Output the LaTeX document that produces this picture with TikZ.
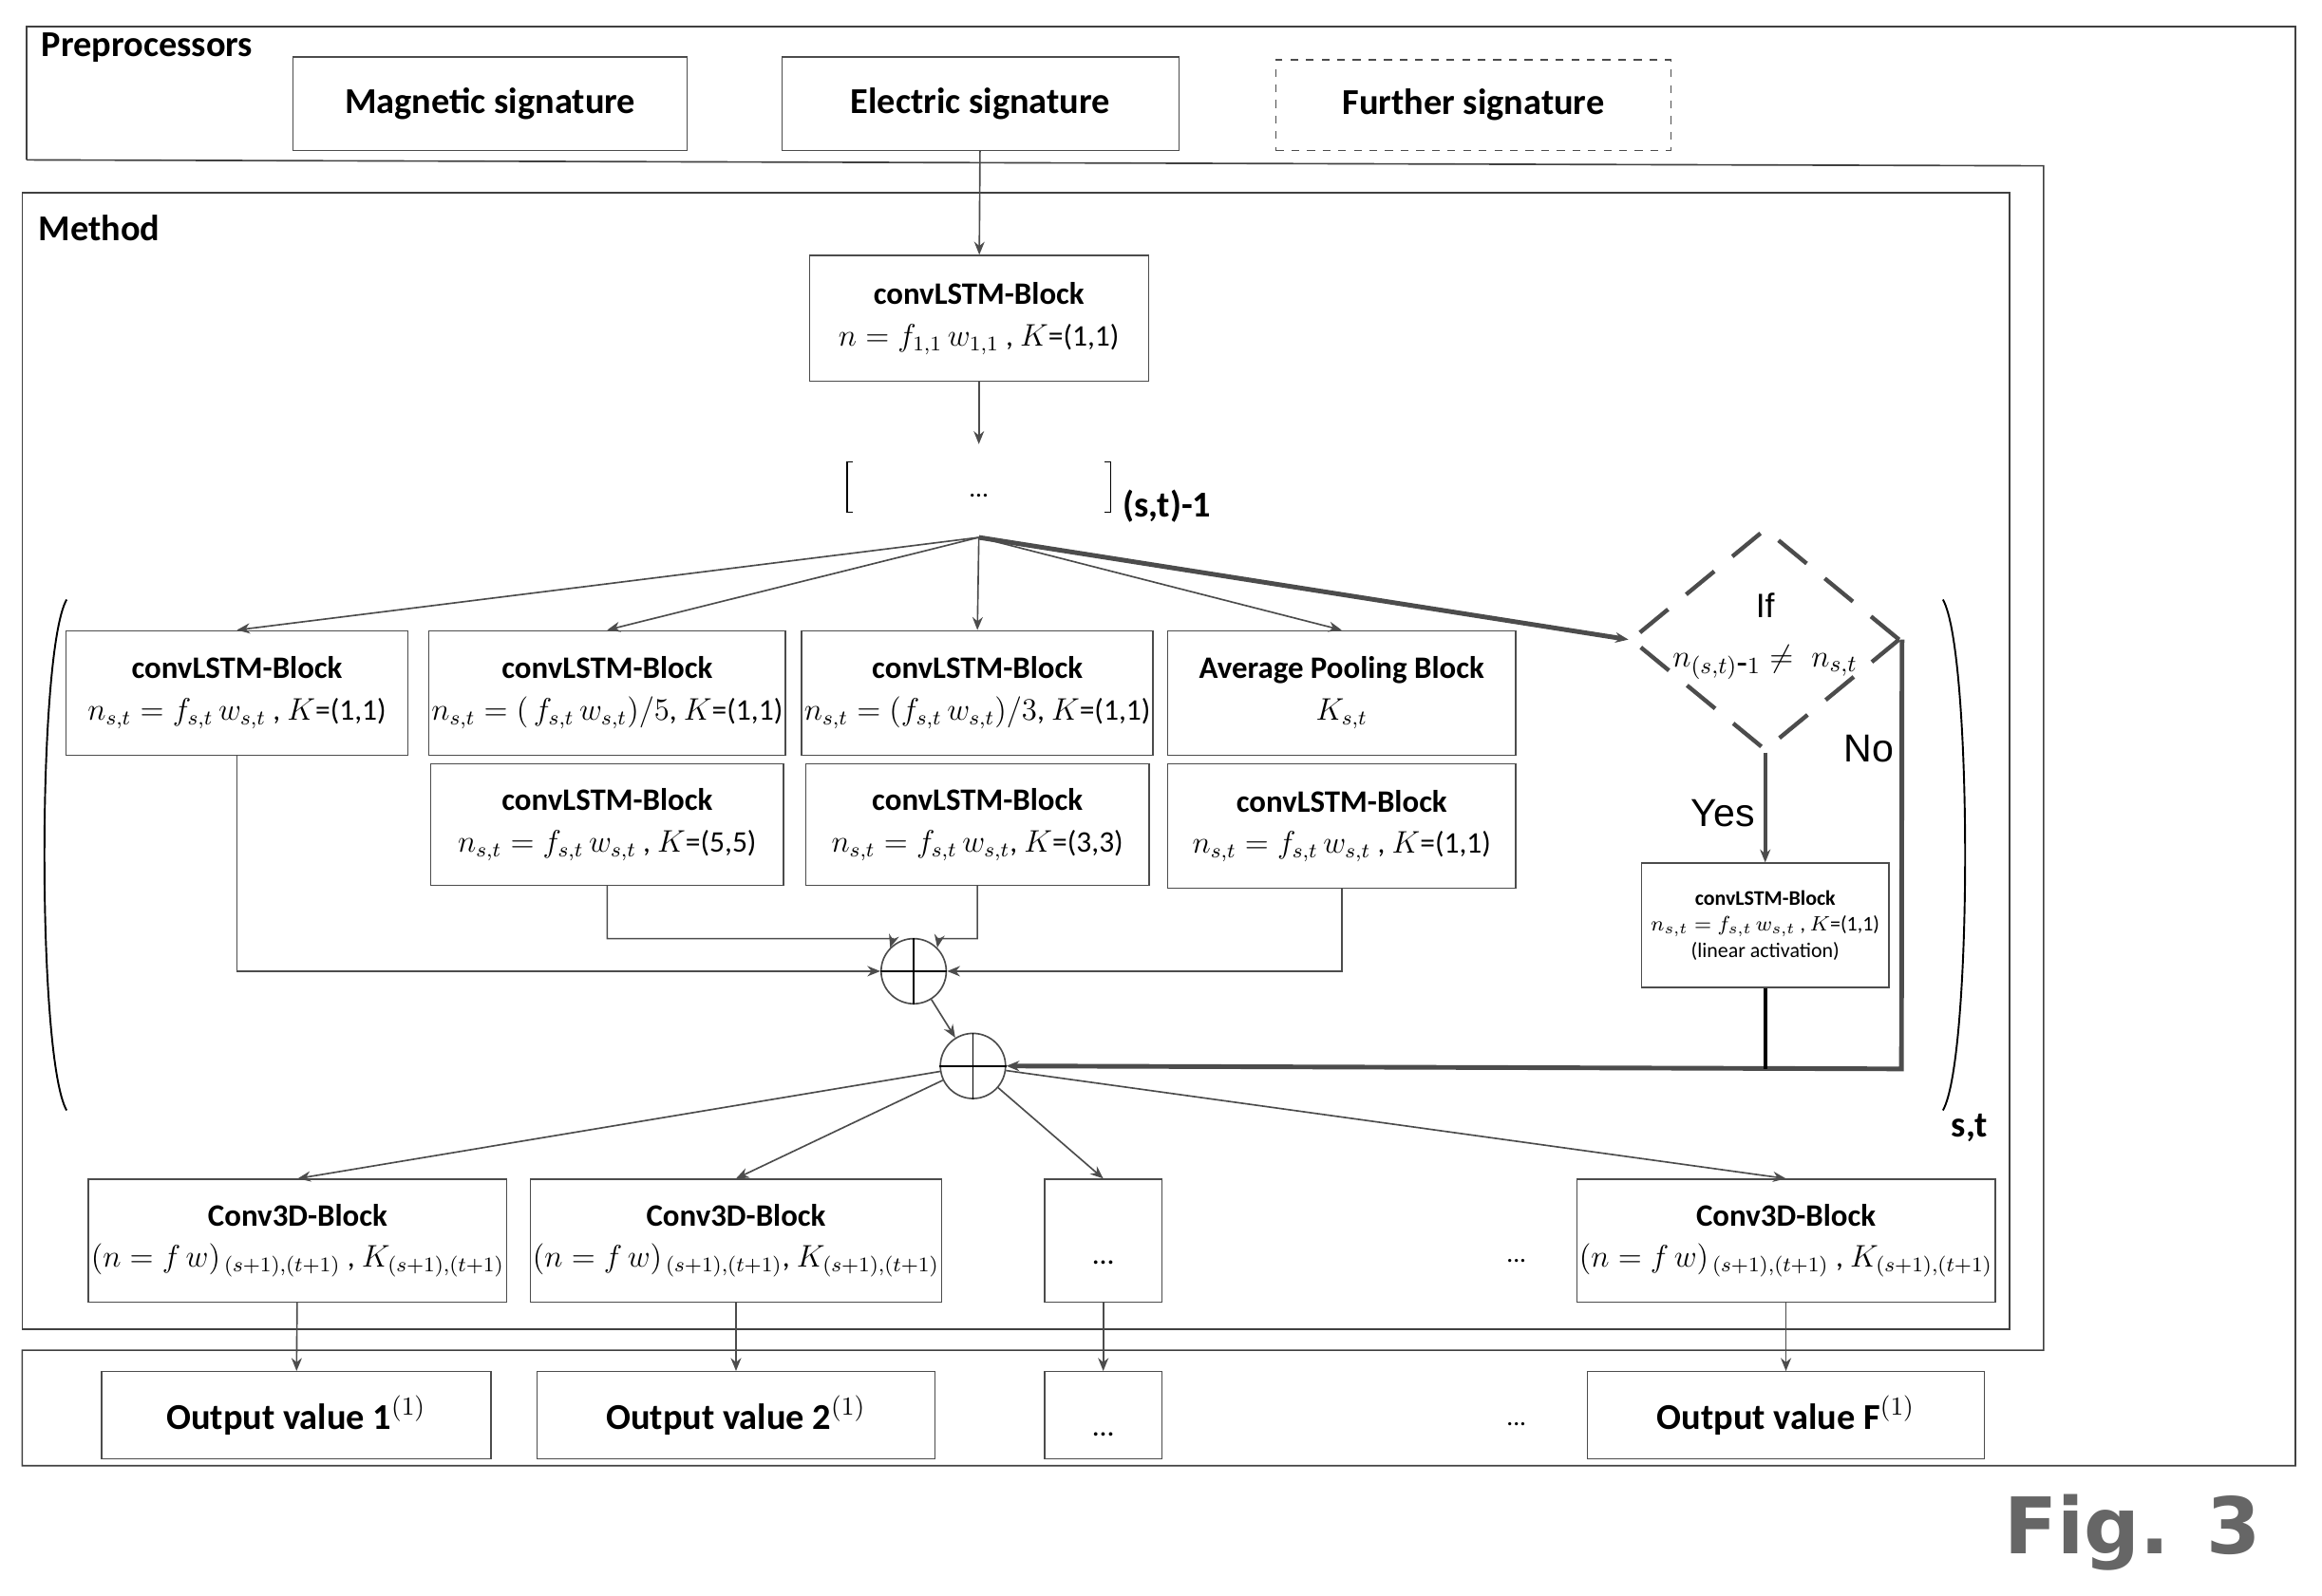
\documentclass[tikz,border=0pt]{standalone}
\usepackage{fontspec}
\setmainfont{Carlito}
\newfontfamily\arialfont{Liberation Sans}
\newfontfamily\figfont{DejaVu Sans}
\usetikzlibrary{shapes.geometric,arrows.meta}
\begin{document}
\begin{tikzpicture}[
    x=0.02cm, y=-0.02cm,
    frame/.style={draw=black!75, line width=0.6pt},
    blk/.style={
        rectangle,
        draw=black!70,
        line width=0.5pt,
        font=\fontsize{11.5}{14}\selectfont,
        align=center,
        inner sep=1pt
    },
    title/.style={font=\fontsize{14}{17}\selectfont\bfseries},
    link/.style={-{Stealth[length=5pt,width=4pt]}, draw=black!70, line width=0.6pt},
    plus/.style={circle, draw=black!70, line width=0.6pt, minimum size=0.88cm, inner sep=0pt}
]
\useasboundingbox (0,0) rectangle (1568,1078);

% frames
\draw[frame] (18,108) -- (18,18) -- (1550,18) -- (1550,990) -- (15,990) -- (15,912) -- (1380,912) -- (1380,112) -- (18,108);
\draw[frame] (15,130) rectangle (1357,898);
\node[title, anchor=west] (pre) at (22,32) {Preprocessors};
\node[title, anchor=west] (meth) at (20,154) {Method};

% preprocessors
\node[blk, title, minimum width=5.32cm, minimum height=1.26cm] (mag) at (331,70) {Magnetic signature};
\node[blk, title, minimum width=5.36cm, minimum height=1.26cm] (elec) at (662,70) {Electric signature};
\node[blk, title, dashed, minimum width=5.34cm, minimum height=1.22cm] (further) at (995,71) {Further signature};

% first block
\node[blk, minimum width=4.58cm, minimum height=1.7cm] (first) at (661,215)
    {\textbf{\large convLSTM-Block}\\[2pt] $n=f_{1,1}\,w_{1,1}$ , $K$=(1,1)};
\draw[link] (elec) -- (first);

% previous stage
\node (prev) at (661,335) {...};
\coordinate (split) at (661,363);
\draw[line width=0.6pt] (576,312) -- (572,312) -- (572,346) -- (576,346);
\draw[line width=0.6pt] (746,312) -- (750,312) -- (750,346) -- (746,346);
\node[font=\fontsize{14}{17}\selectfont\bfseries, anchor=west] (prevlbl) at (752,342) {(s,t)-1};
\draw[link] (first) -- (661,300);

% big parentheses
\draw[line width=0.7pt] (45,405) .. controls (25,440) and (25,715) .. (45,750);
\draw[line width=0.7pt] (1312,405) .. controls (1332,440) and (1332,715) .. (1312,750);
\node[font=\fontsize{14}{17}\selectfont\bfseries] (stlbl) at (1330,762) {s,t};

% row 1
\node[blk, minimum width=4.62cm, minimum height=1.68cm] (a) at (160,468)
    {\textbf{\large convLSTM-Block}\\[2pt] $n_{s,t}=f_{s,t}\,w_{s,t}$ , $K$=(1,1)};
\node[blk, minimum width=4.76cm, minimum height=1.68cm] (b) at (410,468)
    {\textbf{\large convLSTM-Block}\\[2pt] $n_{s,t}=(\,f_{s,t}\,w_{s,t})/5$, $K$=(1,1)};
\node[blk, minimum width=4.64cm, minimum height=1.68cm] (c) at (660,468)
    {\textbf{\large convLSTM-Block}\\[2pt] $n_{s,t}=(f_{s,t}\,w_{s,t})/3$, $K$=(1,1)};
\node[blk, minimum width=4.7cm, minimum height=1.68cm] (d) at (906,468)
    {\textbf{\large Average Pooling Block}\\[2pt] $K_{s,t}$};

% row 2
\node[blk, minimum width=4.76cm, minimum height=1.64cm] (b2) at (410,557)
    {\textbf{\large convLSTM-Block}\\[2pt] $n_{s,t}=f_{s,t}\,w_{s,t}$ , $K$=(5,5)};
\node[blk, minimum width=4.64cm, minimum height=1.64cm] (c2) at (660,557)
    {\textbf{\large convLSTM-Block}\\[2pt] $n_{s,t}=f_{s,t}\,w_{s,t}$, $K$=(3,3)};
\node[blk, minimum width=4.7cm, minimum height=1.68cm] (d2) at (906,558)
    {\textbf{\large convLSTM-Block}\\[2pt] $n_{s,t}=f_{s,t}\,w_{s,t}$ , $K$=(1,1)};

% decision
\node[diamond, draw=black!70, line width=1.6pt, dash pattern=on 14pt off 9pt,
      minimum width=3.64cm, minimum height=3.0cm, inner sep=0pt] (cond) at (1192,432) {};
\node[align=center, font=\arialfont\fontsize{13}{19}\selectfont] (condtxt) at (1192,430)
    {If\\ $n_{(s,t)\mbox{-}1}\neq\ n_{s,t}$};
\node[blk, minimum width=3.34cm, minimum height=1.68cm, font=\fontsize{8}{10}\selectfont] (lin) at (1192,625)
    {\textbf{convLSTM-Block}\\ $n_{s,t}=f_{s,t}\,w_{s,t}$ , $K$=(1,1)\\ (linear activation)};

% split arrows
\draw[link] (split) -- (a.north);
\draw[link] (split) -- (b.north);
\draw[link] (split) -- (c.north);
\draw[link] (split) -- (d.north);
\draw[link, line width=1.8pt] (split) -- (cond.west);
\draw[link, line width=1.4pt] (cond.south) -- node[pos=0.55, left, font=\arialfont\fontsize{15}{18}\selectfont] {Yes} (lin.north);

% sums
\node[plus] (sum1) at (617,656) {};
\draw[line width=0.6pt] (sum1.north) -- (sum1.south) (sum1.west) -- (sum1.east);
\node[plus] (sum2) at (657,720) {};
\draw[line width=0.6pt] (sum2.north) -- (sum2.south) (sum2.west) -- (sum2.east);

\draw[link] (a.south) |- (sum1.west);
\draw[link] (b2.south) |- (603,634) -- (sum1.north west);
\draw[link] (c2.south) |- (634,634) -- (sum1.north east);
\draw[link] (d2.south) |- (sum1.east);
\draw[link] (sum1) -- (sum2);
\draw[link, line width=1.8pt] (cond.east) -- (1284,722) -- (sum2.east);
\node[font=\arialfont\fontsize{15}{18}\selectfont] (nolbl) at (1262,506) {No};
\draw[line width=1.4pt] (lin.south) -- (1192,722);

% conv3d row
\node[blk, minimum width=5.28cm, minimum height=1.66cm] (e1) at (201,838)
    {\textbf{\large Conv3D-Block}\\[2pt] $(n=f\,w)_{\,(s+1),(t+1)}$ , $K_{(s+1),(t+1)}$};
\node[blk, minimum width=5.4cm, minimum height=1.66cm] (e2) at (497,838)
    {\textbf{\large Conv3D-Block}\\[2pt] $(n=f\,w)_{\,(s+1),(t+1)}$, $K_{(s+1),(t+1)}$};
\node[blk, minimum width=1.58cm, minimum height=1.66cm] (e3) at (745,838) {\\[4pt]...};
\node (edots) at (1024,852) {...};
\node[blk, minimum width=5.36cm, minimum height=1.66cm] (e4) at (1206,838)
    {\textbf{\large Conv3D-Block}\\[2pt] $(n=f\,w)_{\,(s+1),(t+1)}$ , $K_{(s+1),(t+1)}$};
\draw[link] (sum2) -- (e1.north);
\draw[link] (sum2) -- (e2.north);
\draw[link] (sum2) -- (e3.north);
\draw[link] (sum2) -- (e4.north);

% outputs
\node[blk, title, minimum width=5.26cm, minimum height=1.18cm] (o1) at (200,956) {Output value 1$^{(1)}$};
\node[blk, title, minimum width=5.38cm, minimum height=1.18cm] (o2) at (497,956) {Output value 2$^{(1)}$};
\node[blk, minimum width=1.58cm, minimum height=1.18cm] (o3) at (745,956) {\\[2pt]...};
\node (odots) at (1024,962) {...};
\node[blk, title, minimum width=5.36cm, minimum height=1.18cm] (o4) at (1206,956) {Output value F$^{(1)}$};
\draw[link] (e1) -- (o1);
\draw[link] (e2) -- (o2);
\draw[link] (e3) -- (o3);
\draw[link] (e4) -- (o4);

\node[font=\figfont\bfseries\fontsize{30}{36}\selectfont, text=black!60] (fig) at (1440,1035) {Fig. 3};
\end{tikzpicture}
\end{document}
